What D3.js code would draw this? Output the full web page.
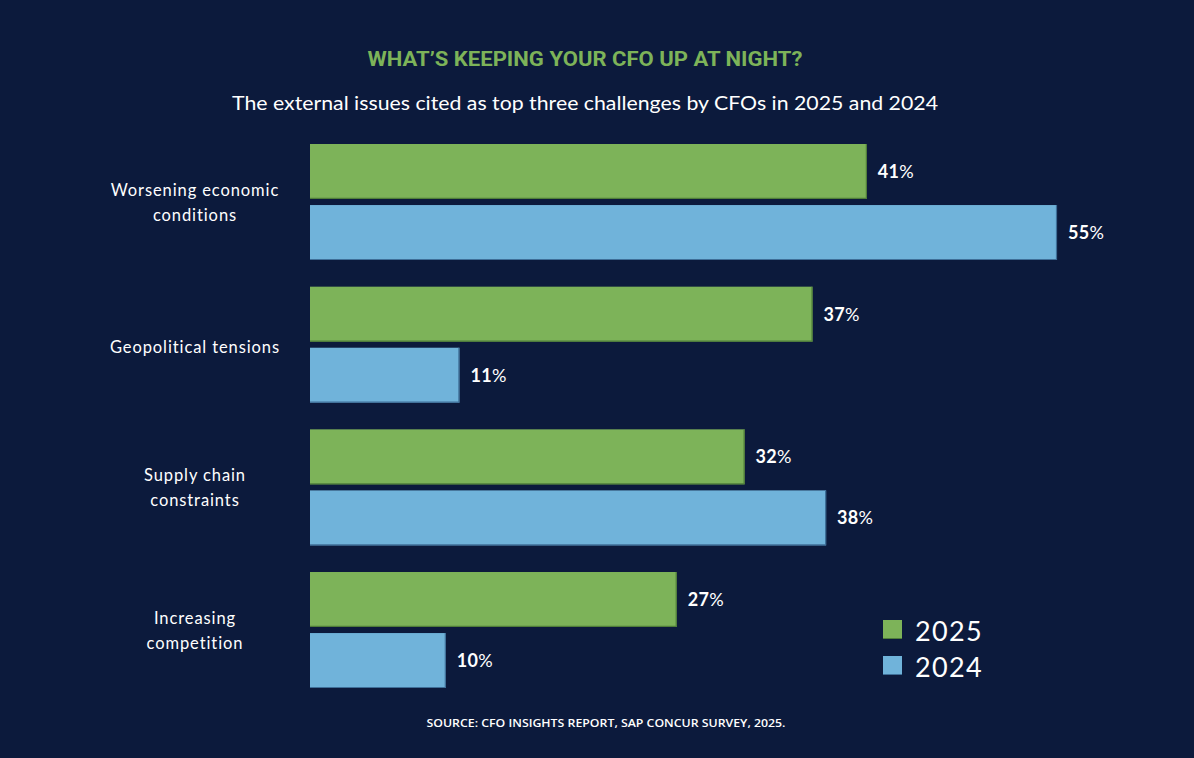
<!DOCTYPE html>
<html>
<head>
<meta charset="utf-8">
<script src="https://cdn.jsdelivr.net/npm/d3@7"></script>
<style>
  html, body { margin: 0; padding: 0; background: #0c1a3c; }
  svg { display: block; }
</style>
</head>
<body>
<svg id="chart" width="1194" height="758"></svg>
<script>
const categories = [
  ["Worsening economic", "conditions"],
  ["Geopolitical tensions"],
  ["Supply chain", "constraints"],
  ["Increasing", "competition"]
];
const categoryKeys = ["Worsening economic conditions", "Geopolitical tensions", "Supply chain constraints", "Increasing competition"];
const seriesNames = ["2025", "2024"];
const values2025 = [41, 37, 32, 27];
const values2024 = [55, 11, 38, 10];
const titleText = "WHAT\u2019S KEEPING YOUR CFO UP AT NIGHT?";
const subtitleText = "The external issues cited as top three challenges by CFOs in 2025 and 2024";
const sourceText = "SOURCE: CFO INSIGHTS REPORT, SAP CONCUR SURVEY, 2025.";

const colors = { "2025": "#7db359", "2024": "#70b3da" };
const strokes = { "2025": "#4f7d3a", "2024": "#3f6f98" };
const font = "Lato, 'Open Sans', sans-serif";

const svg = d3.select("#chart");
svg.append("rect").attr("width", 1194).attr("height", 758).attr("fill", "#0c1a3c");

const x = d3.scaleLinear().domain([0, 55]).range([310, 1057]);
const y = d3.scaleBand().domain(categoryKeys).range([144, 688]).paddingInner(0.187).paddingOuter(0);
const ySub = d3.scaleBand().domain(seriesNames).range([0, y.bandwidth()]).paddingInner(0.1);

const data = categoryKeys.map((k, i) => ({
  key: k, lines: categories[i],
  vals: [{ s: "2025", v: values2025[i] }, { s: "2024", v: values2024[i] }]
}));

// Title
svg.append("text")
  .attr("x", 585).attr("y", 66)
  .attr("text-anchor", "middle")
  .attr("font-family", "Roboto, sans-serif").attr("font-weight", 700)
  .attr("font-size", 21).attr("fill", "#7db359")
  .attr("textLength", 435).attr("lengthAdjust", "spacingAndGlyphs")
  .text(titleText);

svg.append("text")
  .attr("x", 585).attr("y", 110)
  .attr("text-anchor", "middle")
  .attr("font-family", font).attr("font-size", 19.5).attr("fill", "#ffffff")
  .attr("textLength", 706).attr("lengthAdjust", "spacingAndGlyphs")
  .text(subtitleText);

const g = svg.selectAll("g.cat").data(data).enter().append("g")
  .attr("class", "cat")
  .attr("transform", d => `translate(0,${y(d.key)})`);

g.selectAll("rect.bar").data(d => d.vals).enter().append("rect")
  .attr("class", "bar")
  .attr("x", x(0))
  .attr("y", d => ySub(d.s))
  .attr("width", d => x(d.v) - x(0))
  .attr("height", ySub.bandwidth())
  .attr("fill", d => colors[d.s]);

// darker bottom/right edges
g.selectAll("path.edge").data(d => d.vals).enter().append("path")
  .attr("class", "edge")
  .attr("d", d => {
    const y0 = ySub(d.s), h = ySub.bandwidth();
    return `M${x(0)},${y0 + h - 0.5}H${x(d.v) - 0.5}V${y0}`;
  })
  .attr("fill", "none")
  .attr("stroke", d => strokes[d.s])
  .attr("stroke-width", 1.2);

const lbl = g.selectAll("text.val").data(d => d.vals).enter().append("text")
  .attr("class", "val")
  .attr("x", d => x(d.v) + 11)
  .attr("y", d => ySub(d.s) + ySub.bandwidth() / 2 + 6.5)
  .attr("font-family", font).attr("font-size", 18)
  .attr("letter-spacing", 0.3)
  .attr("fill", "#ffffff");
lbl.append("tspan").attr("font-weight", 700).text(d => d.v);
lbl.append("tspan").attr("font-weight", 400).text("%");

// Category labels
g.each(function(d) {
  const n = d.lines.length;
  const lh = 25;
  const cy = y.bandwidth() / 2 + (n > 1 ? 1 : 3);
  const t = d3.select(this).append("text")
    .attr("text-anchor", "middle")
    .attr("font-family", font).attr("font-size", 16.5)
    .attr("letter-spacing", 0.9)
    .attr("fill", "#ffffff");
  d.lines.forEach((line, i) => {
    t.append("tspan").attr("x", 195)
      .attr("y", cy + (i - (n - 1) / 2) * lh + 5.5)
      .text(line);
  });
});

// Legend
const legend = svg.append("g");
seriesNames.forEach((s, i) => {
  const ly = 620 + i * 36;
  legend.append("rect").attr("x", 883).attr("y", ly).attr("width", 19).attr("height", 19)
    .attr("fill", colors[s]);
  legend.append("path").attr("d", `M883,${ly + 18.5}H902`).attr("stroke", strokes[s]).attr("stroke-width", 1);
  legend.append("text").attr("x", 915).attr("y", ly + 21)
    .attr("font-family", font).attr("font-size", 27).attr("letter-spacing", 1.3)
    .attr("fill", "#ffffff")
    .text(s);
});

// Source
svg.append("text")
  .attr("x", 606).attr("y", 727)
  .attr("text-anchor", "middle")
  .attr("font-family", "'Open Sans', sans-serif").attr("font-weight", 600).attr("font-size", 11)
  .attr("fill", "#ffffff")
  .attr("textLength", 359).attr("lengthAdjust", "spacingAndGlyphs")
  .text(sourceText);
</script>
</body>
</html>
